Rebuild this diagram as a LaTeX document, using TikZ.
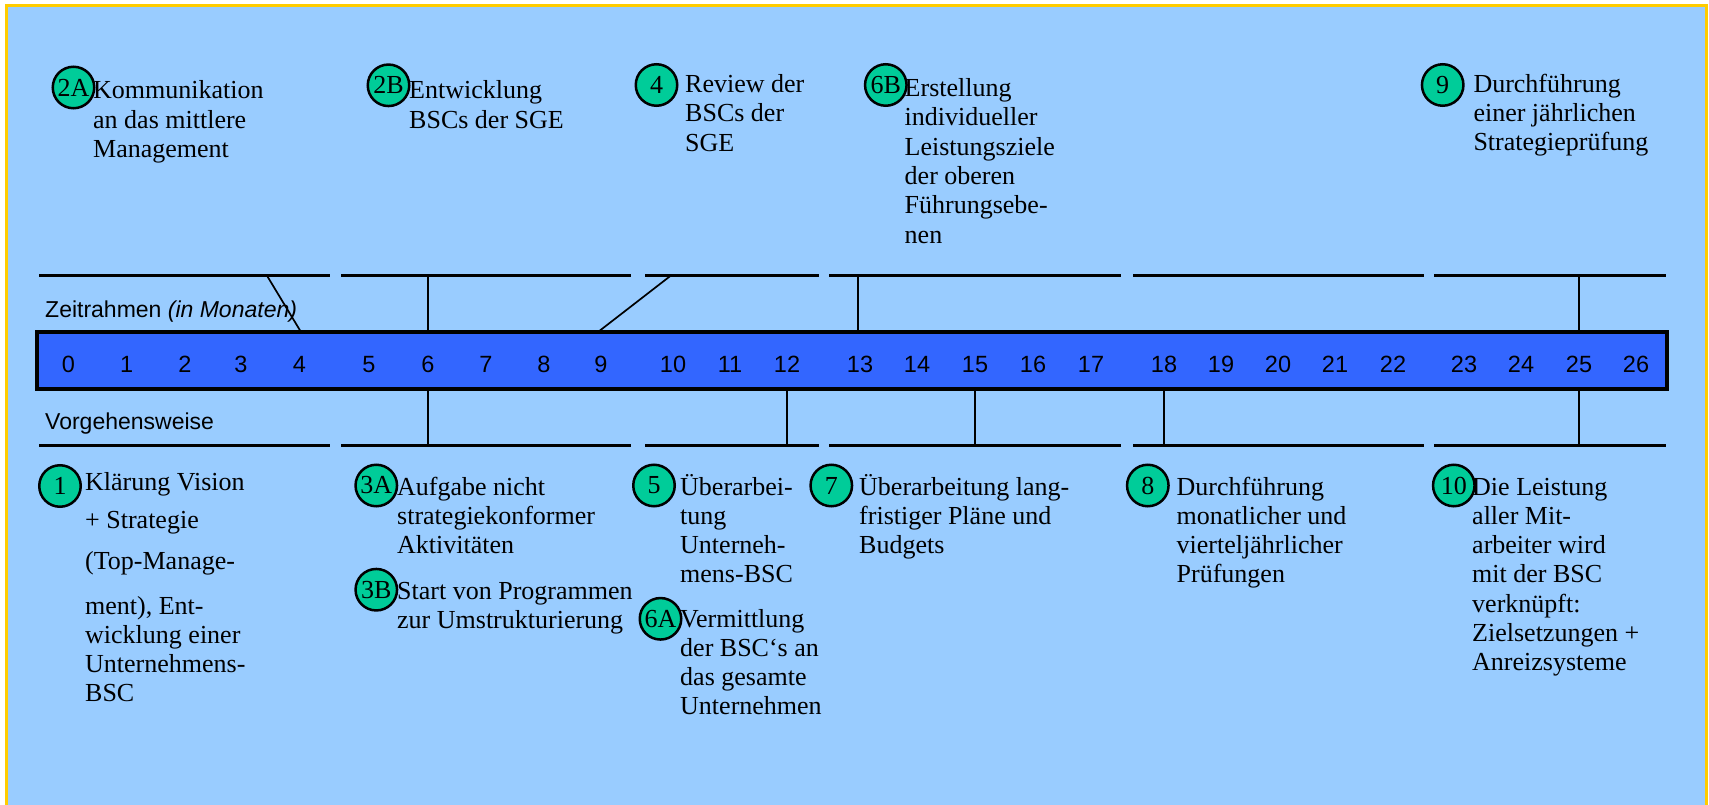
\documentclass[tikz,border=0pt]{standalone}
\usepackage{fontspec}
\setmainfont{Liberation Serif}
\setsansfont{Liberation Sans}
\definecolor{panel}{HTML}{99CCFF}
\definecolor{frameyellow}{HTML}{FFCC00}
\definecolor{barblue}{HTML}{3366FF}
\definecolor{stepgreen}{HTML}{00CC99}
% left-aligned text block whose baseline is the first line
\newcommand\tb[1]{\vtop{\baselineskip=29.3pt\lineskiplimit=-100pt\lineskip=0pt\halign{##\hfil\cr#1\crcr}}}

\begin{document}
\begin{tikzpicture}[x=1pt,y=-1pt,
  badge/.style={circle, draw=black, line width=2.5pt, fill=stepgreen, minimum size=41.5pt, inner sep=0pt, font=\fontsize{26}{28}\selectfont},
  txt/.style={anchor=base west, inner sep=0pt, font=\fontsize{26}{29.3}\selectfont},
  month/.style={anchor=base, inner sep=0pt, font=\sffamily\fontsize{23.5}{26}\selectfont},
  axislabel/.style={anchor=base west, inner sep=0pt, font=\sffamily\fontsize{23}{26}\selectfont},
  seg/.style={line width=3.3pt},
  conn/.style={line width=1.7pt},
  timebar/.style={draw=black, line width=3.7pt, fill=barblue, inner sep=0pt, outer sep=0pt, anchor=north west, minimum width=1630pt, minimum height=57pt}
]
\useasboundingbox (0,0) rectangle (1709,805);
\fill[white] (0,0) rectangle (1709,805);
\fill[panel] (6.5,5.5) rectangle (1706.5,815);
\draw[frameyellow, line width=3pt] (6.5,5.5) rectangle (1706.5,815);

% time bar with month numbers
\node[timebar] (bar) at (37,332) {};
\foreach \m/\x in {0/68.3,1/126.7,2/185,3/241,4/299.3,
                   5/369,6/428,7/486,8/544,9/601,
                   10/673,11/730,12/787,
                   13/860,14/917,15/975,16/1033,17/1091,
                   18/1164,19/1221,20/1278,21/1335,22/1393,
                   23/1464,24/1521,25/1579,26/1636}
  \node[month] (m\m) at (\x,372.3) {\m};

% phase separators above and below the bar
\foreach \i/\a/\b in {1/39/330, 2/341/631, 3/645/819, 4/829/1121, 5/1133/1424, 6/1434/1666} {
  \coordinate (up\i a) at (\a,275.7);
  \coordinate (up\i b) at (\b,275.7);
  \coordinate (dn\i a) at (\a,445.7);
  \coordinate (dn\i b) at (\b,445.7);
  \draw[seg] (up\i a) -- (up\i b);
  \draw[seg] (dn\i a) -- (dn\i b);
}

\node[axislabel] (zr) at (45,317.3) {Zeitrahmen \textit{(in Monaten)}};
\node[axislabel] (vw) at (45,429) {Vorgehensweise};

% connectors from the phases to the months
\coordinate (k2A) at (267,275.7);
\coordinate (k4) at (670.7,275.7);
\draw[conn] (k2A) -- ([xshift=1.7pt]bar.north -| m4);
\draw[conn] (m6 |- up2a) -- (bar.north -| m6);
\draw[conn] (k4) -- ([xshift=-3pt]bar.north -| m9);
\draw[conn] ([xshift=-2pt]m13 |- up4a) -- ([xshift=-2pt]bar.north -| m13);
\draw[conn] (m25 |- up6a) -- (bar.north -| m25);
\draw[conn] (bar.south -| m6) -- (m6 |- dn2a);
\draw[conn] (bar.south -| m12) -- (m12 |- dn3a);
\draw[conn] (bar.south -| m15) -- (m15 |- dn4a);
\draw[conn] (bar.south -| m18) -- (m18 |- dn5a);
\draw[conn] (bar.south -| m25) -- (m25 |- dn6a);

% upper steps
\node[badge] (b2A) at (73.5,87.5) {2A};
\node[txt] (t2A) at (93,99) {\tb{Kommunikation\cr an das mittlere\cr Management}};
\node[badge] (b2B) at (388.5,85.3) {2B};
\node[txt] (t2B) at (409,99) {\tb{Entwicklung\cr BSCs der SGE}};
\node[badge] (b4) at (656.5,85) {4};
\node[txt] (t4) at (685,92.7) {\tb{Review der\cr BSCs der\cr SGE}};
\node[badge] (b6B) at (885.8,85) {6B};
\node[txt] (t6B) at (904.5,96.7) {\tb{Erstellung\cr individueller\cr Leistungsziele\cr der oberen\cr Führungsebe-\cr nen}};
\node[badge] (b9) at (1442.7,85) {9};
\node[txt] (t9) at (1473.3,92.3) {\tb{Durchführung\cr einer jährlichen\cr Strategieprüfung}};

% lower steps
\node[badge] (b1) at (60,486) {1};
\node[txt] (t1) at (85,490.7) {\tb{Klärung Vision\cr\noalign{\kern8.3pt}+ Strategie\cr\noalign{\kern11.4pt}(Top-Manage-\cr\noalign{\kern15.7pt}ment), Ent-\cr wicklung einer\cr Unternehmens-\cr BSC}};
\node[badge] (b3A) at (376.3,485.5) {3A};
\node[txt] (t3A) at (397,495) {\tb{Aufgabe nicht\cr strategiekonformer\cr Aktivitäten}};
\node[badge] (b3B) at (376.3,589.7) {3B};
\node[txt] (t3B) at (397,599) {\tb{Start von Programmen\cr zur Umstrukturierung}};
\node[badge] (b5) at (654,485.5) {5};
\node[txt] (t5) at (680,495) {\tb{Überarbei-\cr tung\cr Unterneh-\cr mens-BSC}};
\node[badge] (b6A) at (660.5,618.8) {6A};
\node[txt] (t6A) at (680,627) {\tb{Vermittlung\cr der BSC‘s an\cr das gesamte\cr Unternehmen}};
\node[badge] (b7) at (831.3,485.5) {7};
\node[txt] (t7) at (859,495) {\tb{Überarbeitung lang-\cr fristiger Pläne und\cr Budgets}};
\node[badge] (b8) at (1147.8,485.5) {8};
\node[txt] (t8) at (1176.5,495) {\tb{Durchführung\cr monatlicher und\cr vierteljährlicher\cr Prüfungen}};
\node[badge] (b10) at (1453.8,485.5) {10};
\node[txt] (t10) at (1472,495) {\tb{Die Leistung\cr aller Mit-\cr arbeiter wird\cr mit der BSC\cr verknüpft:\cr Zielsetzungen +\cr Anreizsysteme}};
\end{tikzpicture}
\end{document}
